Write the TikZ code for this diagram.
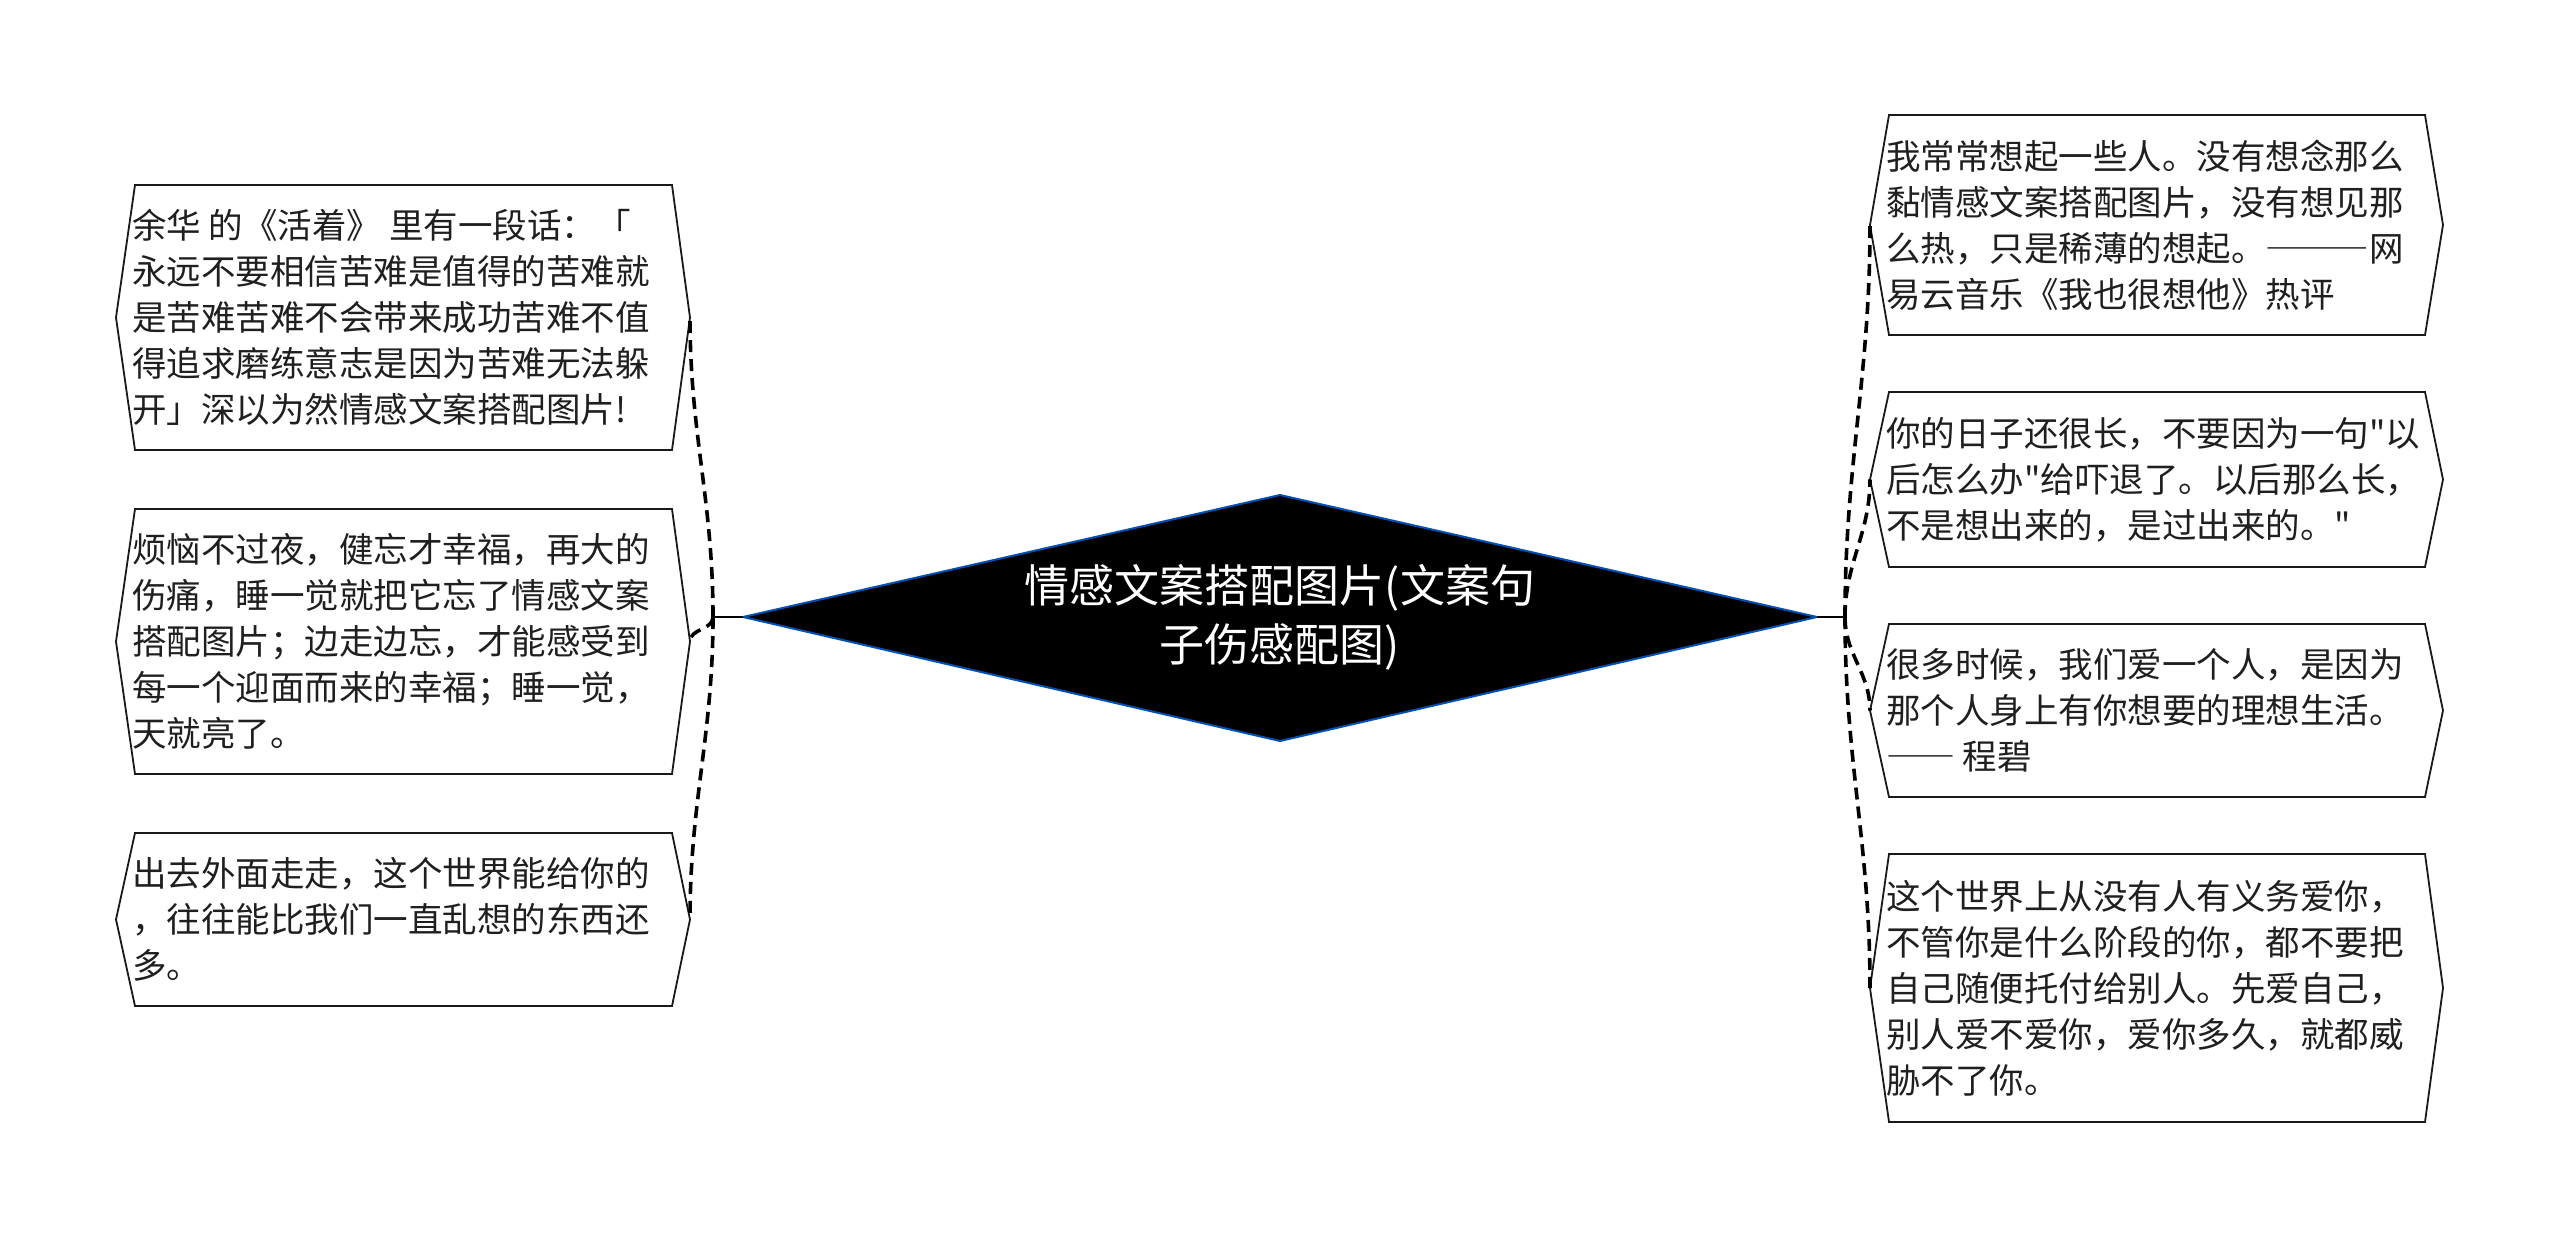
\documentclass[tikz,border=0pt]{standalone}
\usepackage{fontspec}
\newfontfamily\cjk{Noto Sans CJK SC}
\newfontfamily\cjkfw[RawFeature=+fwid]{Noto Sans CJK SC}
\tikzset{
  boxline/.style={draw=black!90, line width=1.8pt, fill=white, line join=miter},
  boxtext/.style={inner sep=0pt, anchor=west, align=left, text=black!88,
    font=\fontsize{34.5}{46}\selectfont\cjk},
  conn/.style={draw=black, line width=3.6pt, dash pattern=on 12pt off 7pt},
  stem/.style={draw=black, line width=2.4pt},
  diam/.style={draw=blue!55!cyan!70!black, line width=2pt, fill=black},
}
\newcommand\mmbox[6]{%
  \pgfmathsetmacro\mmmid{(#4+#5)/2}%
  \draw[boxline] (#2,\mmmid) -- (#2+19,#4) -- (#3-18,#4) -- (#3,\mmmid) -- (#3-18,#5) -- (#2+19,#5) -- cycle;
  \node[boxtext] (#1) at (#2+16,\mmmid) {#6};
  \coordinate (#1-l) at (#2,\mmmid);
  \coordinate (#1-r) at (#3,\mmmid);
}
\begin{document}
\begin{tikzpicture}[x=1pt,y=-1pt]
\useasboundingbox[fill=white] (0,0) rectangle (2560,1237);

% central diamond
\coordinate (dl) at (743,617);
\coordinate (dt) at (1280,495);
\coordinate (dr) at (1817,617);
\coordinate (db) at (1280,741);
\draw[diam] (dl) -- (dt) -- (dr) -- (db) -- cycle;
\node[text=white, align=center, inner sep=0pt, font=\fontsize{45}{59}\selectfont\cjk] (c) at (1280,617)
  {情感文案搭配图片(文案句\\子伤感配图)};

\coordinate (LJ) at (713,617);
\coordinate (RJ) at (1845,617);

% left boxes
\mmbox{l1}{116}{690}{185}{450}{余华 的《活着》 里有一段话：「\\永远不要相信苦难是值得的苦难就\\是苦难苦难不会带来成功苦难不值\\得追求磨练意志是因为苦难无法躲\\开」深以为然情感文案搭配图片!}
\mmbox{l2}{116}{690}{509}{774}{烦恼不过夜，健忘才幸福，再大的\\伤痛，睡一觉就把它忘了情感文案\\搭配图片；边走边忘，才能感受到\\每一个迎面而来的幸福；睡一觉，\\天就亮了。}
\mmbox{l3}{116}{690}{833}{1006}{出去外面走走，这个世界能给你的\\，往往能比我们一直乱想的东西还\\多。}

% right boxes
\mmbox{r1}{1870}{2443}{115}{335}{我常常想起一些人。没有想念那么\\黏情感文案搭配图片，没有想见那\\么热，只是稀薄的想起。{\cjkfw ———}网\\易云音乐《我也很想他》热评}
\mmbox{r2}{1870}{2443}{392}{567}{你的日子还很长，不要因为一句"以\\后怎么办"给吓退了。以后那么长，\\不是想出来的，是过出来的。"}
\mmbox{r3}{1870}{2443}{624}{797}{很多时候，我们爱一个人，是因为\\那个人身上有你想要的理想生活。\\{\cjkfw ——} 程碧}
\mmbox{r4}{1870}{2443}{854}{1122}{这个世界上从没有人有义务爱你，\\不管你是什么阶段的你，都不要把\\自己随便托付给别人。先爱自己，\\别人爱不爱你，爱你多久，就都威\\胁不了你。}

% stems
\draw[stem] (dl) -- (LJ);
\draw[stem] (dr) -- (RJ);

% connectors
\draw[conn] (LJ) to[out=90,in=-90] (l1-r);
\draw[conn] (LJ) to[out=-90,in=90] (l2-r);
\draw[conn] (LJ) to[out=-90,in=90] (l3-r);
\draw[conn] (RJ) to[out=90,in=-90] (r1-l);
\draw[conn] (RJ) to[out=90,in=-90] (r2-l);
\draw[conn] (RJ) to[out=-90,in=90] (r3-l);
\draw[conn] (RJ) to[out=-90,in=90] (r4-l);
\end{tikzpicture}
\end{document}
